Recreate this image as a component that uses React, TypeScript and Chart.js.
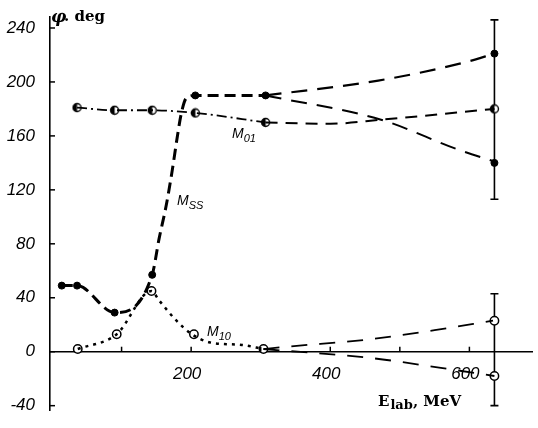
import React, { useEffect, useRef } from "react";
import { Chart, registerables } from "chart.js";

Chart.register(...registerables);

// Axis ticks
const yTicks = [-40, 0, 40, 80, 120, 160, 200, 240];
const xTicks = [100, 200, 300, 400, 500, 600];
const xLabeled = [200, 400, 600];

// Curves (E_lab in MeV, phase in deg)
const mssMainE = [14, 36, 90, 144, 154, 164, 173, 180, 186, 193, 207, 307];
const mssMainV = [49, 49, 29, 57, 84, 108, 135, 159, 177, 188, 190, 190];
const mssUpE = [307, 469, 597, 636];
const mssUpV = [190, 201, 215, 221];
const mssDownE = [307, 473, 583, 636];
const mssDownV = [190, 172, 150, 141];

const m01LeftE = [36, 90, 144, 206, 307];
const m01LeftV = [181, 179, 179, 177, 170];
const m01RightE = [307, 400, 473, 636];
const m01RightV = [170, 169, 172, 180];

const m10LeftE = [37, 93, 143, 154, 179, 201, 226, 273, 304];
const m10LeftV = [2, 13, 45, 38, 23, 13, 7, 5, 2];
const m10UpE = [304, 344, 454, 550, 634];
const m10UpV = [2, 4, 9, 16, 23];
const m10DownE = [304, 464, 559, 636];
const m10DownV = [2, -5, -12, -18];

// Markers
const filledE = [14, 36, 90, 144, 206, 307, 636, 636];
const filledV = [49, 49, 29, 57, 190, 190, 221, 140];
const openE = [37, 93, 143, 204, 304, 636, 636];
const openV = [2, 13, 45, 13, 2, 23, -18];
const halfE = [36, 90, 144, 206, 307, 636];
const halfV = [181, 179, 179, 177, 170, 180];

// Error bars at the highest energy
const errE = [636, 636];
const errLo = [113, -40];
const errHi = [246, 43];

const pts = (xs: number[], ys: number[]) => xs.map((x, i) => ({ x, y: ys[i] }));

function makeHalfMarker(): HTMLCanvasElement {
  const c = document.createElement("canvas");
  c.width = 11;
  c.height = 11;
  const g = c.getContext("2d")!;
  g.fillStyle = "#fff";
  g.beginPath();
  g.arc(5.5, 5.5, 4, 0, Math.PI * 2);
  g.fill();
  g.fillStyle = "#000";
  g.beginPath();
  g.arc(5.5, 5.5, 4, Math.PI / 2, (3 * Math.PI) / 2);
  g.fill();
  g.strokeStyle = "#000";
  g.lineWidth = 1.4;
  g.beginPath();
  g.arc(5.5, 5.5, 4, 0, Math.PI * 2);
  g.stroke();
  return c;
}

const overlay = {
  id: "overlay",
  beforeDatasetsDraw(chart: any) {
    const { ctx, scales } = chart;
    const x = scales.x, y = scales.y;
    ctx.save();
    ctx.strokeStyle = "#000";
    ctx.lineWidth = 1.6;
    errE.forEach((e, i) => {
      const px = x.getPixelForValue(e);
      const y1 = y.getPixelForValue(errLo[i]);
      const y2 = y.getPixelForValue(errHi[i]);
      ctx.beginPath();
      ctx.moveTo(px, y1);
      ctx.lineTo(px, y2);
      ctx.moveTo(px - 4, y1);
      ctx.lineTo(px + 4, y1);
      ctx.moveTo(px - 4, y2);
      ctx.lineTo(px + 4, y2);
      ctx.stroke();
    });
    ctx.restore();
  },
  afterDraw(chart: any) {
    const { ctx, scales } = chart;
    const x = scales.x, y = scales.y;
    ctx.save();
    ctx.strokeStyle = "#000";
    ctx.lineWidth = 1.5;
    const axX = x.getPixelForValue(x.min);
    const axY = y.getPixelForValue(0);
    yTicks.forEach((t) => {
      const py = y.getPixelForValue(t);
      ctx.beginPath();
      ctx.moveTo(axX, py);
      ctx.lineTo(axX + 5, py);
      ctx.stroke();
    });
    xTicks.forEach((t) => {
      const px = x.getPixelForValue(t);
      ctx.beginPath();
      ctx.moveTo(px, axY);
      ctx.lineTo(px, axY - 5);
      ctx.stroke();
    });

    ctx.fillStyle = "#000";
    ctx.textBaseline = "alphabetic";
    ctx.textAlign = "left";
    // y axis title
    ctx.font = "italic bold 17px 'DejaVu Serif'";
    ctx.fillText("φ", 51, 22);
    ctx.font = "bold 15px 'DejaVu Serif'";
    ctx.fillText(". deg", 64, 21);
    // x axis title
    ctx.font = "bold 15px 'DejaVu Serif'";
    ctx.fillText("E", 378, 406);
    const wE = ctx.measureText("E").width;
    ctx.font = "bold 13px 'DejaVu Serif'";
    ctx.fillText("lab", 378 + wE + 1, 409);
    const wl = ctx.measureText("lab").width;
    ctx.font = "bold 15px 'DejaVu Serif'";
    ctx.fillText(", MeV", 378 + wE + 1 + wl, 406);

    // curve labels
    const lab = (m: string, sub: string, px: number, py: number) => {
      ctx.font = "italic 14px 'Liberation Sans'";
      ctx.fillText(m, px, py);
      const w = ctx.measureText(m).width;
      ctx.font = "italic 11px 'Liberation Sans'";
      ctx.fillText(sub, px + w, py + 4);
    };
    lab("M", "01", 232, 138);
    lab("M", "SS", 177, 205);
    lab("M", "10", 207, 336);
    ctx.restore();
  },
};

export default function App() {
  const ref = useRef<HTMLCanvasElement | null>(null);
  useEffect(() => {
    const half = makeHalfMarker();
    const line = (data: any, dash: number[], width: number) => ({
      data,
      showLine: true,
      borderColor: "#000",
      borderWidth: width,
      borderDash: dash,
      pointRadius: 0,
      pointHoverRadius: 0,
      fill: false,
      cubicInterpolationMode: "monotone",
    });
    const chart = new Chart(ref.current!, {
      type: "scatter",
      data: {
        datasets: [
          line(pts(mssMainE, mssMainV), [11, 6], 3),
          line(pts(mssUpE, mssUpV), [16, 10], 2.2),
          line(pts(mssDownE, mssDownV), [16, 10], 2),
          line(pts(m01LeftE, m01LeftV), [10, 4, 2, 4], 1.8),
          line(pts(m01RightE, m01RightV), [12, 8], 2),
          line(pts(m10LeftE, m10LeftV), [3, 5], 2.5),
          line(pts(m10UpE, m10UpV), [16, 12], 1.8),
          line(pts(m10DownE, m10DownV), [16, 12], 1.8),
          {
            data: pts(halfE, halfV),
            showLine: false,
            pointStyle: half as any,
            pointRadius: 5,
          },
          {
            data: pts(openE, openV),
            showLine: false,
            pointStyle: "circle",
            pointRadius: 4.2,
            pointBackgroundColor: "#fff",
            pointBorderColor: "#000",
            pointBorderWidth: 1.5,
          },
          {
            data: pts(filledE, filledV),
            showLine: false,
            pointStyle: "circle",
            pointRadius: 3.5,
            pointBackgroundColor: "#000",
            pointBorderColor: "#000",
            pointBorderWidth: 1,
          },
        ] as any,
      },
      options: {
        animation: false,
        responsive: true,
        maintainAspectRatio: false,
        events: [],
        layout: { padding: { top: 15, bottom: 13, left: 0, right: 3 } },
        plugins: { legend: { display: false }, tooltip: { enabled: false }, title: { display: false } },
        scales: {
          x: {
            type: "linear",
            min: -2.9,
            max: 690,
            position: { y: 0 } as any,
            grid: { display: false },
            border: { display: true, color: "#000", width: 1.6 },
            afterBuildTicks: (s: any) => {
              s.ticks = xTicks.map((v) => ({ value: v }));
            },
            ticks: {
              autoSkip: false,
              maxRotation: 0,
              padding: 4,
              labelOffset: -4,
              color: "#000",
              font: { family: "'Liberation Sans'", size: 17, style: "italic" },
              callback: (v: any) => (xLabeled.includes(Number(v)) ? String(v) : ""),
            },
          },
          y: {
            type: "linear",
            min: -43.8,
            max: 248,
            position: "left",
            grid: { display: false },
            border: { display: true, color: "#000", width: 1.6 },
            afterFit: (s: any) => {
              s.width = 50;
            },
            afterBuildTicks: (s: any) => {
              s.ticks = yTicks.map((v) => ({ value: v }));
            },
            ticks: {
              autoSkip: false,
              padding: 7,
              color: "#000",
              font: { family: "'Liberation Sans'", size: 17, style: "italic" },
              callback: (v: any) => String(v),
            },
          },
        },
      },
      plugins: [overlay],
    });
    return () => chart.destroy();
  }, []);
  return (
    <div style={{ position: "absolute", left: 0, top: 0, width: 538, height: 428, background: "#fff" }}>
      <canvas ref={ref} />
    </div>
  );
}
